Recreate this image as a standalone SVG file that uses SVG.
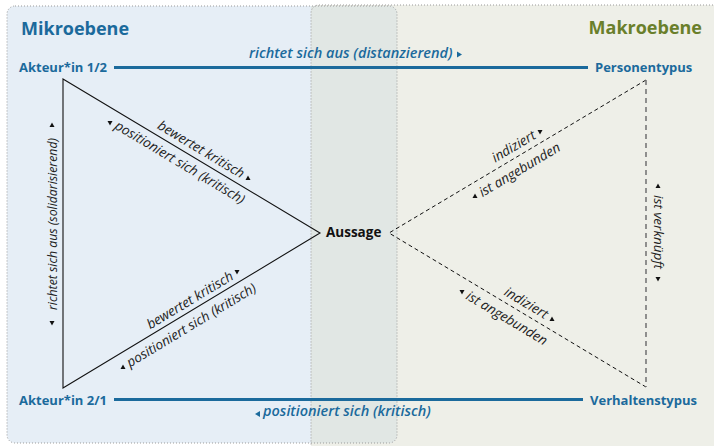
<svg xmlns="http://www.w3.org/2000/svg" width="714" height="446" viewBox="0 0 714 446">
<style>
.title{font-family:"Open Sans","Liberation Sans",sans-serif;font-weight:700;font-size:18px}
.node{font-family:"Open Sans","Liberation Sans",sans-serif;font-weight:700;font-size:13px;fill:#1b6a9c}
.aus{font-family:"Open Sans","Liberation Sans",sans-serif;font-weight:700;font-size:13.5px;fill:#111}
.rel{font-family:"Open Sans","Liberation Sans",sans-serif;font-style:italic;font-weight:600;font-size:14.5px;fill:#1b6a9c}
.lab{font-family:"Open Sans","Liberation Sans",sans-serif;font-style:italic;font-size:13.5px;fill:#222}
.vlab{font-family:"Open Sans","Liberation Sans",sans-serif;font-style:italic;font-size:12.3px;fill:#222}
.tri{fill:#111}
.btri{fill:#1b6a9c}
.bline{stroke:#1b6a9c;stroke-width:3;fill:none}
.solid{stroke:#111;stroke-width:1.1;fill:none}
.dash{stroke:#111;stroke-width:1;stroke-dasharray:4 3;fill:none}
.gdash{stroke:#777;stroke-width:1.6;stroke-dasharray:5 4;fill:none}
.border{stroke:#9a9a9a;stroke-width:1;stroke-dasharray:1 2;fill:none}
</style>
<g id="panels">
<rect x="311" y="5" width="420" height="460" rx="8" fill="#eeefe8"/>
<rect x="7" y="6" width="390" height="437" rx="8" fill="#e6eef6"/>
<path d="M311 6 H389 A8 8 0 0 1 397 14 V435 A8 8 0 0 1 389 443 H311 Z" fill="#e1e7e4"/>
<rect x="311" y="5" width="420" height="460" rx="8" class="border"/>
<rect x="7" y="6" width="390" height="437" rx="8" class="border"/>
</g>
<g id="titles">
<text x="21" y="35" class="title" fill="#1b6a9c">Mikroebene</text>
<text x="702" y="34" class="title" fill="#6a7f2b" text-anchor="end">Makroebene</text>
</g>
<g id="connectors">
<line x1="114" y1="67.5" x2="588" y2="67.5" class="bline"/>
<line x1="114" y1="399.5" x2="583" y2="399.5" class="bline"/>
<path d="M63 79 L320 233 L63 388 Z" class="solid"/>
<path d="M646 80 L389 233 L646 387" class="dash"/>
<line x1="646" y1="80" x2="646" y2="387" class="gdash"/>
</g>
<g id="node-akteur12"><text x="19" y="72" class="node">Akteur*in 1/2</text></g>
<g id="node-akteur21"><text x="19" y="404.5" class="node">Akteur*in 2/1</text></g>
<g id="node-personentypus"><text x="595" y="72" class="node">Personentypus</text></g>
<g id="node-verhaltenstypus"><text x="590" y="404.5" class="node">Verhaltenstypus</text></g>
<g id="node-aussage"><text x="326" y="237" class="aus">Aussage</text></g>
<g id="labels">
<text x="249" y="58" class="rel">richtet sich aus (distanzierend)</text>
<polygon class="btri" points="457,51.5 462,54.5 457,57.5"/>
<text x="263" y="416" class="rel">positioniert sich (kritisch)</text>
<polygon class="btri" points="260,411 255,414 260,417"/>

<text class="vlab" transform="translate(57 224) rotate(-90)" text-anchor="middle">richtet sich aus (solidarisierend)</text>
<polygon class="tri" points="49.5,127 54.5,127 52,122.5"/>
<polygon class="tri" points="49.5,321 54.5,321 52,325.5"/>
<text class="lab" transform="translate(654 232) rotate(90)" text-anchor="middle">ist verknüpft</text>
<polygon class="tri" points="655.5,188 660.5,188 658,183.5"/>
<polygon class="tri" points="655.5,277 660.5,277 658,281.5"/>

<g transform="translate(191.5 156) rotate(30.9)">
<text class="lab" x="54" y="-6" text-anchor="end">bewertet kritisch</text>
<text class="lab" x="-81" y="16">positioniert sich (kritisch)</text>
</g>
<polygon class="tri" points="245.5,180 250.5,180 248,175.5"/>
<polygon class="tri" points="107.5,121 112.5,121 110,125.5"/>

<g transform="translate(191.5 310.5) rotate(-31.1)">
<text class="lab" x="53" y="-5" text-anchor="end">bewertet kritisch</text>
<text class="lab" x="-82" y="17">positioniert sich (kritisch)</text>
</g>
<polygon class="tri" points="234.5,270 239.5,270 237,274.5"/>
<polygon class="tri" points="120.5,369 125.5,369 123,364.5"/>

<g transform="translate(517.5 156.5) rotate(-30.8)">
<text class="lab" x="26" y="-6" text-anchor="end">indiziert</text>
<text class="lab" x="-51" y="17">ist angebunden</text>
</g>
<polygon class="tri" points="537.5,130 542.5,130 540,134.5"/>
<polygon class="tri" points="472.5,198 477.5,198 475,193.5"/>

<g transform="translate(517.5 310) rotate(30.9)">
<text class="lab" x="28" y="-6" text-anchor="end">indiziert</text>
<text class="lab" x="-51" y="17">ist angebunden</text>
</g>
<polygon class="tri" points="549.5,321 554.5,321 552,316.5"/>
<polygon class="tri" points="459.5,290 464.5,290 462,294.5"/>
</g>
</svg>
